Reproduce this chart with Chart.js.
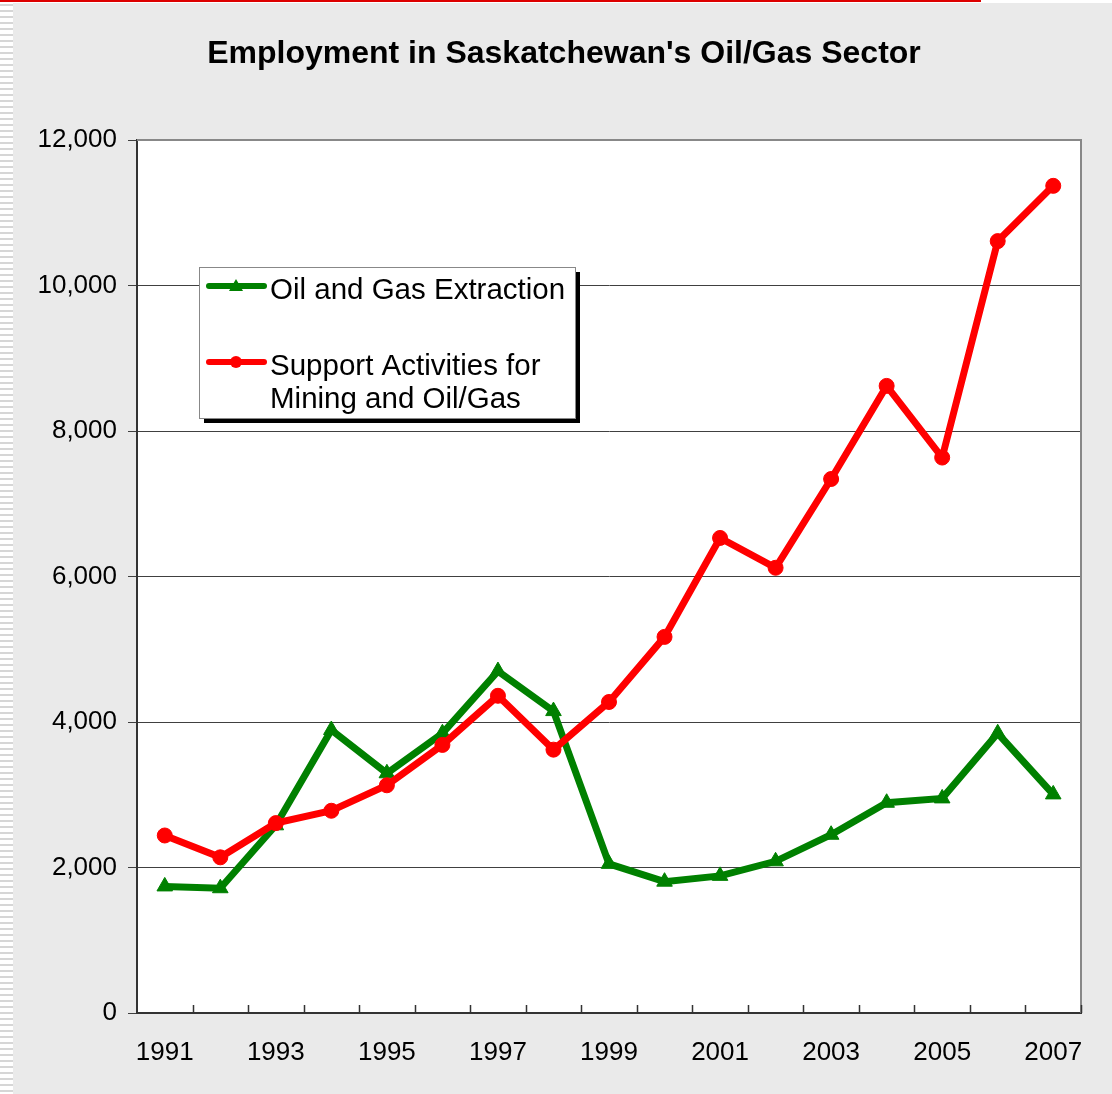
<!DOCTYPE html>
<html>
<head>
<meta charset="utf-8">
<script src="https://cdn.jsdelivr.net/npm/chart.js@4/dist/chart.umd.min.js"></script>
<style>
    html, body { margin: 0; padding: 0; background: #eaeaea; }
    #wrap { width: 1112px; height: 1094px; }
</style>
</head>
<body>
<div id="wrap"><canvas id="chart" width="1112" height="1094"></canvas></div>
<script>
// data
const years = ['1991', '1992', '1993', '1994', '1995', '1996', '1997', '1998', '1999',
    '2000', '2001', '2002', '2003', '2004', '2005', '2006', '2007'];
const oilGasExtraction = [1740, 1715, 2580, 3890, 3295, 3845, 4700, 4150, 2050,
    1805, 1885, 2085, 2450, 2890, 2950, 3845, 3005];
const supportActivities = [2440, 2140, 2610, 2780, 3130, 3685, 4360, 3620, 4275,
    5170, 6530, 6120, 7340, 8620, 7635, 10610, 11370];
const yTicks = [0, 2000, 4000, 6000, 8000, 10000, 12000];

const FONT = "'Liberation Sans', Arial, sans-serif";
const GREEN = '#008000';
const RED = '#ff0000';

// page background, striped left edge, red top rule, white plot area
const backdrop = {
    id: 'backdrop',
    afterLayout(chart) {
        // title in the original sits a bit right of the canvas centre
        if (chart.titleBlock) chart.titleBlock.left = 47;
    },
    beforeDraw(chart) {
        const ctx = chart.ctx;
        const { left, top, right, bottom } = chart.chartArea;
        ctx.save();
        ctx.fillStyle = '#eaeaea';
        ctx.fillRect(0, 0, chart.width, chart.height);

        ctx.fillStyle = '#ffffff';
        ctx.fillRect(0, 0, 13, chart.height);
        ctx.fillStyle = '#d6d6d6';
        for (let y = 0; y < chart.height; y += 6) {
            ctx.fillRect(0, y + 4, 13, 2);
        }
        ctx.fillStyle = '#ffffff';
        ctx.fillRect(13, 0, chart.width, 3);
        ctx.fillStyle = '#dd0000';
        ctx.fillRect(0, 0, 981, 2);

        ctx.fillStyle = '#ffffff';
        ctx.fillRect(left, top, right - left, bottom - top);
        ctx.restore();
    },
    beforeDatasetsDraw(chart) {
        const ctx = chart.ctx;
        const { left, top, right, bottom } = chart.chartArea;
        ctx.save();
        // gray frame on top/right
        ctx.strokeStyle = '#888888';
        ctx.lineWidth = 2;
        ctx.beginPath();
        ctx.moveTo(left, top);
        ctx.lineTo(right, top);
        ctx.lineTo(right, bottom);
        ctx.stroke();

        // inward tick marks between categories
        const n = chart.data.labels.length;
        const step = (right - left) / n;
        ctx.strokeStyle = '#333333';
        ctx.lineWidth = 1.5;
        ctx.beginPath();
        for (let i = 1; i <= n; i++) {
            const x = Math.round(left + i * step) + 0.5;
            ctx.moveTo(x, bottom);
            ctx.lineTo(x, bottom - 8);
        }
        ctx.stroke();
        ctx.restore();
    }
};

// boxed legend with drop shadow, inside the plot
const boxLegend = {
    id: 'boxLegend',
    afterDraw(chart) {
        const ctx = chart.ctx;
        const bx = 199, by = 267, bw = 376, bh = 151;
        ctx.save();
        ctx.fillStyle = '#000000';
        ctx.fillRect(bx + 5, by + 5, bw, bh);
        ctx.fillStyle = '#ffffff';
        ctx.fillRect(bx, by, bw, bh);
        ctx.strokeStyle = '#888888';
        ctx.lineWidth = 1;
        ctx.strokeRect(bx + 0.5, by + 0.5, bw, bh);

        const items = [
            { color: GREEN, style: 'triangle', y: 286, lines: ['Oil and Gas Extraction'] },
            { color: RED, style: 'circle', y: 362, lines: ['Support Activities for', 'Mining and Oil/Gas'] }
        ];
        ctx.font = '29.5px ' + FONT;
        ctx.textBaseline = 'alphabetic';
        ctx.textAlign = 'left';
        items.forEach(item => {
            ctx.strokeStyle = item.color;
            ctx.lineWidth = 6;
            ctx.lineCap = 'round';
            ctx.beginPath();
            ctx.moveTo(209, item.y);
            ctx.lineTo(264, item.y);
            ctx.stroke();
            ctx.fillStyle = item.color;
            ctx.beginPath();
            if (item.style === 'circle') {
                ctx.arc(236, item.y, 6, 0, Math.PI * 2);
            } else {
                ctx.moveTo(236, item.y - 7);
                ctx.lineTo(243, item.y + 5);
                ctx.lineTo(229, item.y + 5);
                ctx.closePath();
            }
            ctx.fill();
            ctx.fillStyle = '#000000';
            item.lines.forEach((line, i) => {
                ctx.fillText(line, 270, item.y + 13 + i * 33);
            });
        });
        ctx.restore();
    }
};

new Chart(document.getElementById('chart'), {
    type: 'line',
    data: {
        labels: years,
        datasets: [{
            label: 'Oil and Gas Extraction',
            data: oilGasExtraction,
            borderColor: GREEN,
            backgroundColor: GREEN,
            borderWidth: 7,
            pointStyle: 'triangle',
            pointRadius: 9,
            pointBorderWidth: 1,
            tension: 0,
            order: 1
        }, {
            label: 'Support Activities for Mining and Oil/Gas',
            data: supportActivities,
            borderColor: RED,
            backgroundColor: RED,
            borderWidth: 7,
            pointStyle: 'circle',
            pointRadius: 7.5,
            pointBorderWidth: 1,
            tension: 0,
            order: 0
        }]
    },
    options: {
        responsive: false,
        animation: false,
        layout: { padding: { top: 0, right: 31, left: 0, bottom: 0 } },
        plugins: {
            legend: { display: false },
            tooltip: { enabled: false },
            title: {
                display: true,
                text: "Employment in Saskatchewan's Oil/Gas Sector",
                color: '#000000',
                font: { family: FONT, size: 32, weight: 'bold' },
                padding: { top: 35, bottom: 66.6 }
            }
        },
        scales: {
            x: {
                offset: true,
                grid: { offset: true, drawOnChartArea: false, drawTicks: false },
                border: { display: true, color: '#333333', width: 2 },
                ticks: {
                    autoSkip: false,
                    maxRotation: 0,
                    color: '#000000',
                    padding: 24,
                    font: { family: FONT, size: 26 },
                    callback: (v, i) => (i % 2 === 0 ? years[i] : '')
                },
                afterFit: (scale) => { scale.height = 81; }
            },
            y: {
                min: yTicks[0],
                max: yTicks[yTicks.length - 1],
                afterBuildTicks: (scale) => { scale.ticks = yTicks.map(v => ({ value: v })); },
                grid: { color: '#404040', lineWidth: 1, tickLength: 9, drawTicks: true },
                border: { display: true, color: '#333333', width: 2 },
                ticks: {
                    color: '#000000',
                    padding: 11,
                    font: { family: FONT, size: 26 },
                    callback: (v) => v.toLocaleString('en-US')
                },
                afterFit: (scale) => { scale.width = 137; }
            }
        }
    },
    plugins: [backdrop, boxLegend]
});
</script>
</body>
</html>
